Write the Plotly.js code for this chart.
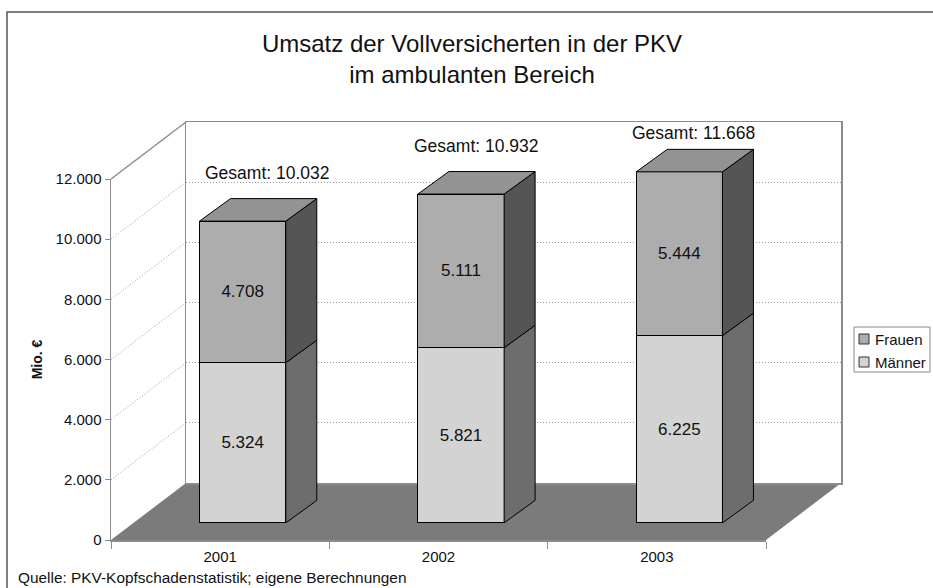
<!DOCTYPE html>
<html><head><meta charset="utf-8">
<script src="https://cdn.plot.ly/plotly-3.0.1.min.js"></script>
<style>html,body{margin:0;padding:0;background:#fff}#chart{width:933px;height:588px}</style>
</head><body><div id="chart"></div>
<script>
// ---- data ----
const years   = ['2001', '2002', '2003'];
const maenner = [5324, 5821, 6225];
const frauen  = [4708, 5111, 5444];
const gesamt  = [10032, 10932, 11668];
const yTicks  = [0, 2000, 4000, 6000, 8000, 10000, 12000];
const seriesNames = ['Männer', 'Frauen'];
const titleText = 'Umsatz der Vollversicherten in der PKV<br>im ambulanten Bereich';
const yTitle = 'Mio. €';
const sourceText = 'Quelle: PKV-Kopfschadenstatistik; eigene Berechnungen';

// ---- geometry / style ----
const W = 933, H = 588;
const FX0 = 111, FX1 = 766, FY0 = 540, FY1 = 179;   // front plane (px)
const DX = 75, DY = 57;                              // depth of the box (px)
const YMAX = 12000;
const pxPerUnit = (FY0 - FY1) / YMAX;
const BF = 0.3;                                      // bar front depth fraction
const BDX = 31, BDY = 22.5;                          // bar depth (px)
const BAR_W = 0.395;
const Y3MAX = 14000;
const px = x => x / W, py = y => 1 - y / H;
const barX0 = FX0 + BF * DX, barY0 = FY0 - BF * DY;
const pxPerCat = (FX1 - FX0) / years.length;
const dxU = BDX / pxPerCat, dyU = BDY / pxPerUnit;
const fmt = n => String(n).replace(/\B(?=(\d{3})+(?!\d))/g, '.');
const idx = years.map((_, i) => i);
const labelOffsets = [[25, 48], [15, 48], [14, 39]];
const FONT = 'Liberation Sans, Arial, Helvetica, sans-serif';

const cMFront = '#d3d3d3', cMSide = '#6d6d6d';
const cFFront = '#adadad', cFSide = '#555555', cFTop = '#939393';
const cFloor = '#7b7b7b', cWall = '#8c8c8c', cGrid = '#9a9a9a';
const legendColors = [cMFront, cFFront];

const traces = [
  {type: 'scatter', x: years, y: years.map(() => null), xaxis: 'x', yaxis: 'y',
   mode: 'markers', showlegend: false, hoverinfo: 'skip'},
  {type: 'scatter', x: [], y: [], xaxis: 'x2', yaxis: 'y2', mode: 'markers',
   showlegend: false, hoverinfo: 'skip'},
  {type: 'bar', name: seriesNames[0], x: idx, y: maenner, xaxis: 'x3', yaxis: 'y3',
   width: BAR_W, marker: {color: cMFront, line: {color: '#000', width: 1}},
   texttemplate: '%{y:,}', textposition: 'inside', insidetextanchor: 'middle',
   textfont: {size: 17, color: '#111'}, showlegend: false, hoverinfo: 'y+name'},
  {type: 'bar', name: seriesNames[1], x: idx, y: frauen, xaxis: 'x3', yaxis: 'y3',
   width: BAR_W, marker: {color: cFFront, line: {color: '#000', width: 1}},
   texttemplate: '%{y:,}', textposition: 'inside', insidetextanchor: 'middle',
   textfont: {size: 17, color: '#111'}, showlegend: false, hoverinfo: 'y+name'}
];

const shapes = [];
// outer frame
shapes.push({type: 'rect', xref: 'paper', yref: 'paper', x0: px(7), x1: 1.05, y0: -0.05, y1: py(12),
  line: {color: '#555', width: 1.5}, layer: 'below'});
// floor
shapes.push({type: 'path', xref: 'paper', yref: 'paper', layer: 'below',
  path: `M ${px(FX0)},${py(FY0)} L ${px(FX1)},${py(FY0)} L ${px(FX1 + DX)},${py(FY0 - DY)} L ${px(FX0 + DX)},${py(FY0 - DY)} Z`,
  fillcolor: cFloor, line: {width: 0}});
// left wall: top edge and dotted grid
yTicks.forEach(v => {
  if (v === 0) return;
  const yy = FY0 - v * pxPerUnit;
  shapes.push({type: 'line', xref: 'paper', yref: 'paper', layer: 'below',
    x0: px(FX0), y0: py(yy), x1: px(FX0 + DX), y1: py(yy - DY),
    line: v === YMAX ? {color: cWall, width: 1.5} : {color: cGrid, width: 1, dash: '1px,2px'}});
});
// bar side and top faces
idx.forEach(i => {
  const l = i - BAR_W / 2, r = i + BAR_W / 2;
  const m = maenner[i], t = maenner[i] + frauen[i];
  const ln = {color: '#000', width: 1};
  shapes.push({type: 'path', xref: 'x3', yref: 'y3', layer: 'above', fillcolor: cMSide, line: ln,
    path: `M ${r},0 L ${r + dxU},${dyU} L ${r + dxU},${m + dyU} L ${r},${m} Z`});
  shapes.push({type: 'path', xref: 'x3', yref: 'y3', layer: 'above', fillcolor: cFSide, line: ln,
    path: `M ${r},${m} L ${r + dxU},${m + dyU} L ${r + dxU},${t + dyU} L ${r},${t} Z`});
  shapes.push({type: 'path', xref: 'x3', yref: 'y3', layer: 'above', fillcolor: cFTop, line: ln,
    path: `M ${l},${t} L ${l + dxU},${t + dyU} L ${r + dxU},${t + dyU} L ${r},${t} Z`});
});

const annotations = idx.map(i => ({
  xref: 'x3', yref: 'y3', x: i, y: maenner[i] + frauen[i],
  xshift: labelOffsets[i][0], yshift: labelOffsets[i][1],
  text: 'Gesamt: ' + fmt(gesamt[i]), showarrow: false,
  font: {size: 17.5, color: '#111'}, xanchor: 'center', yanchor: 'middle'
}));
annotations.push({xref: 'paper', yref: 'paper', x: px(16), y: py(577), xanchor: 'left', yanchor: 'middle',
  text: sourceText, showarrow: false, font: {size: 15.4, color: '#111'}});

// legend box (Frauen above Männer)
const LX0 = 854, LX1 = 930, LY0 = 327, LY1 = 372;
shapes.push({type: 'rect', xref: 'paper', yref: 'paper', layer: 'above',
  x0: px(LX0), x1: px(LX1), y0: py(LY1), y1: py(LY0), fillcolor: '#fff', line: {color: '#888', width: 1}});
[1, 0].forEach((s, k) => {
  const cy = 339 + k * 23;
  shapes.push({type: 'rect', xref: 'paper', yref: 'paper', layer: 'above',
    x0: px(859), x1: px(869), y0: py(cy + 5), y1: py(cy - 5),
    fillcolor: legendColors[s], line: {color: '#333', width: 1}});
  annotations.push({xref: 'paper', yref: 'paper', x: px(873), y: py(cy), xanchor: 'left', yanchor: 'middle',
    text: seriesNames[s], showarrow: false, font: {size: 15, color: '#111'}});
});

const layout = {
  width: W, height: H, margin: {l: 0, r: 0, t: 0, b: 0},
  paper_bgcolor: '#fff', plot_bgcolor: 'rgba(0,0,0,0)',
  separators: ',.', barmode: 'stack', showlegend: false,
  font: {family: FONT, color: '#111', size: 15},
  title: {text: titleText, font: {size: 24, color: '#111'}, x: px(472), xanchor: 'center',
          y: py(52), yanchor: 'top'},
  xaxis: {domain: [px(FX0), px(FX1)], anchor: 'y', type: 'category', range: [-0.5, 2.5],
          tickson: 'boundaries', ticks: 'outside', ticklen: 7, tickcolor: cWall, tickwidth: 1,
          showline: true, linecolor: cWall, linewidth: 1.5, showgrid: false, zeroline: false,
          tickfont: {size: 15}, ticklabelstandoff: 2, fixedrange: true},
  yaxis: {domain: [py(FY0), py(FY1)], anchor: 'x', range: [0, YMAX], tickvals: yTicks, tickformat: ',',
          ticks: 'outside', ticklen: 5, tickcolor: cWall, showline: true, linecolor: cWall, linewidth: 1.5,
          showgrid: false, zeroline: false, tickfont: {size: 15}, fixedrange: true,
          title: {text: yTitle, font: {size: 14, weight: 'bold'}, standoff: 9}},
  xaxis2: {domain: [px(FX0 + DX), px(FX1 + DX)], anchor: 'y2', range: [0, 1], showticklabels: false,
           ticks: '', showgrid: false, zeroline: false, showline: true, mirror: true,
           linecolor: cWall, linewidth: 1.5, layer: 'below traces', fixedrange: true},
  yaxis2: {domain: [py(FY0 - DY), py(FY1 - DY)], anchor: 'x2', range: [0, YMAX], tickvals: yTicks,
           showticklabels: false, ticks: '', showgrid: true, gridcolor: cGrid, griddash: '1px,2px',
           gridwidth: 1, zeroline: false, showline: true, mirror: true, linecolor: cWall, linewidth: 1.5,
           layer: 'below traces', fixedrange: true},
  xaxis3: {domain: [px(barX0), px(barX0 + FX1 - FX0)], anchor: 'y3', range: [-0.5, 2.5], visible: false,
           fixedrange: true},
  yaxis3: {domain: [py(barY0), py(barY0 - Y3MAX * pxPerUnit)], anchor: 'x3', range: [0, Y3MAX],
           visible: false, fixedrange: true},
  shapes: shapes, annotations: annotations
};

Plotly.newPlot('chart', traces, layout, {displayModeBar: false, staticPlot: true});
</script>
</body></html>
